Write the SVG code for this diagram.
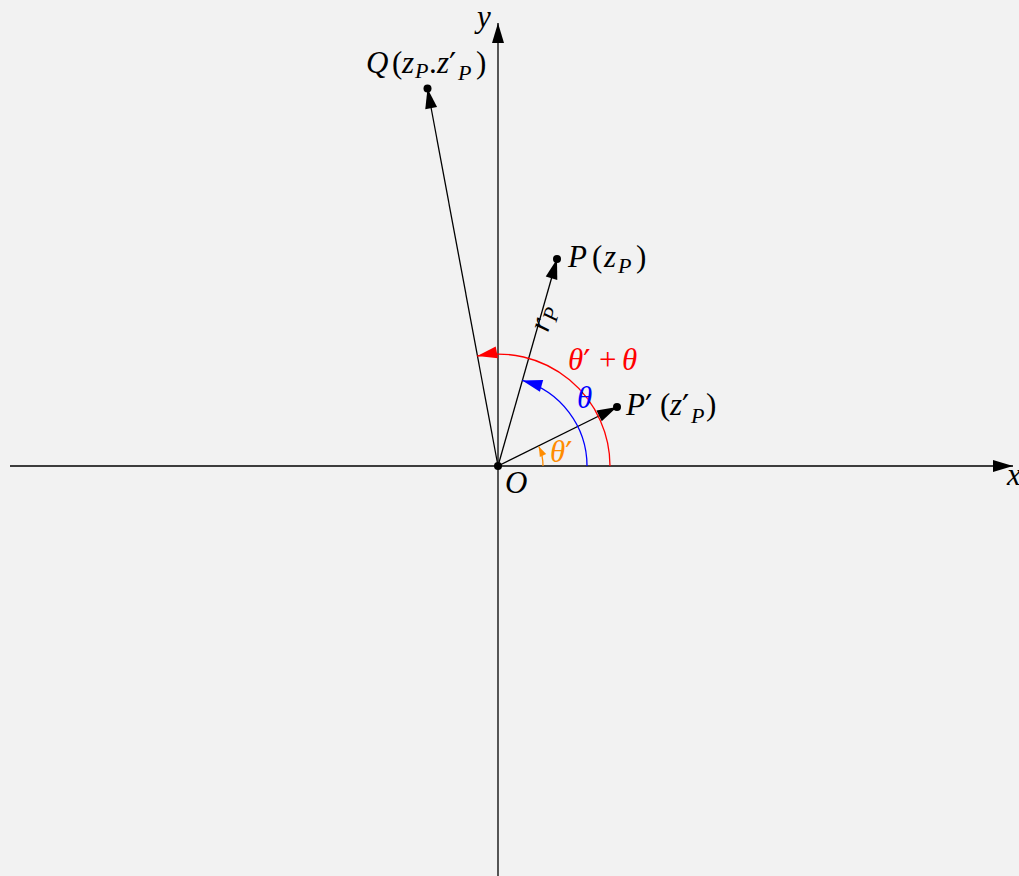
<svg xmlns="http://www.w3.org/2000/svg" width="1019" height="876" viewBox="0 0 1019 876">
<style>
.m{font-family:"Liberation Serif","Times New Roman",serif;font-style:italic;font-size:31px}
.s{font-size:22px}
.r{font-style:normal}
.pr{font-family:"DejaVu Sans",sans-serif;font-style:normal;font-size:32px}
.ln{stroke:#000;stroke-width:1.3;fill:none}
</style>
<defs>
<marker id="ak" markerUnits="userSpaceOnUse" markerWidth="20" markerHeight="12" refX="20" refY="6" orient="auto" overflow="visible"><path d="M0,0 L20,6 L0,12 Z" fill="#000"/></marker>
<marker id="ab" markerUnits="userSpaceOnUse" markerWidth="20" markerHeight="12" refX="20" refY="6" orient="auto" overflow="visible"><path d="M0,0 L20,6 L0,12 Z" fill="#0000ff"/></marker>
<marker id="ar" markerUnits="userSpaceOnUse" markerWidth="20" markerHeight="12" refX="20" refY="6" orient="auto" overflow="visible"><path d="M0,0 L20,6 L0,12 Z" fill="#ff0000"/></marker>
<marker id="ao" markerUnits="userSpaceOnUse" markerWidth="10" markerHeight="7" refX="10" refY="3.5" orient="auto" overflow="visible"><path d="M0,0 L10,3.5 L0,7 Z" fill="#ff8c00"/></marker>
</defs>
<rect width="1019" height="876" fill="#f2f2f2"/>
<g id="connectors">
<line class="ln" x1="10" y1="466" x2="1013" y2="466" marker-end="url(#ak)"/>
<line class="ln" x1="498" y1="876" x2="498" y2="23" marker-end="url(#ak)"/>
<line class="ln" x1="498" y1="466" x2="557" y2="259" marker-end="url(#ak)"/>
<line class="ln" x1="498" y1="466" x2="617" y2="407" marker-end="url(#ak)"/>
<line class="ln" x1="498" y1="466" x2="427.5" y2="88.5" marker-end="url(#ak)"/>
<path d="M587,466 A89,89 0 0 0 522.3,380.4" fill="none" stroke="#0000ff" stroke-width="1.3" marker-end="url(#ab)"/>
<path d="M610,466 A112,112 0 0 0 477.2,356" fill="none" stroke="#ff0000" stroke-width="1.3" marker-end="url(#ar)"/>
<path d="M543,466 A45,45 0 0 0 538.8,446.5" fill="none" stroke="#ff8c00" stroke-width="1.3" marker-end="url(#ao)"/>
</g>
<g id="O"><circle cx="498" cy="466" r="4" fill="#000"/><text class="m" x="505" y="493">O</text></g>
<g id="xlabel"><text class="m" x="1007" y="485">x</text></g>
<g id="ylabel"><text class="m" x="477" y="27" font-size="28">y</text></g>
<g id="P"><circle cx="557" cy="259" r="4" fill="#000"/>
<text class="m"><tspan x="568" y="267">P</tspan><tspan class="r" x="592" y="267">(</tspan><tspan x="604" y="267">z</tspan><tspan class="s" x="618" y="273">P</tspan><tspan class="r" x="636" y="267">)</tspan></text></g>
<g id="Pp"><circle cx="617" cy="407" r="4" fill="#000"/>
<text class="m"><tspan x="626" y="415">P<tspan class="pr" dy="2">′</tspan></tspan><tspan class="r" x="660" y="415">(</tspan><tspan x="670" y="415">z<tspan class="pr" dy="2">′</tspan></tspan><tspan class="s" x="691" y="423">P</tspan><tspan class="r" x="706" y="415">)</tspan></text></g>
<g id="Q"><circle cx="427.5" cy="88.5" r="4" fill="#000"/>
<text class="m"><tspan x="366" y="73">Q</tspan><tspan class="r" x="392" y="73">(</tspan><tspan x="402" y="73">z</tspan><tspan class="s" x="415" y="78">P</tspan><tspan class="r" x="429" y="73">.</tspan><tspan x="437" y="73">z<tspan class="pr" dy="2">′</tspan></tspan><tspan class="s" x="458" y="80">P</tspan><tspan class="r" x="476" y="73">)</tspan></text></g>
<g id="rP"><text class="m" transform="translate(548,333) rotate(-74)">r<tspan class="s" dy="5">P</tspan></text></g>
<g id="theta-sum"><text class="m" fill="#ff0000"><tspan x="568" y="370">θ<tspan class="pr" dy="2">′</tspan></tspan><tspan class="r" x="599" y="370">+</tspan><tspan x="622" y="370">θ</tspan></text></g>
<g id="theta"><text class="m" fill="#0000ff" x="577" y="408">θ</text></g>
<g id="theta-p"><text class="m" fill="#ff8c00"><tspan x="550" y="462">θ<tspan class="pr" dy="2">′</tspan></tspan></text></g>
</svg>
